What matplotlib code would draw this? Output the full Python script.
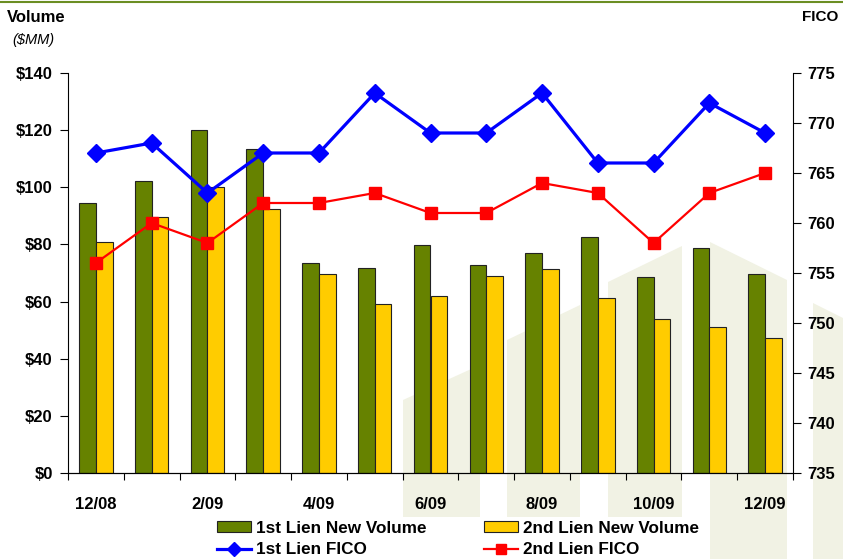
import numpy as np
import matplotlib.pyplot as plt
from matplotlib.patches import Polygon

plt.rcParams['font.family'] = ['Liberation Sans', 'DejaVu Sans']

# ---------------------------------------------------------
# DATA
# ---------------------------------------------------------
months = ["12/08", "1/09", "2/09", "3/09", "4/09", "5/09", "6/09",
          "7/09", "8/09", "9/09", "10/09", "11/09", "12/09"]
first_volume = [94.4, 102.3, 120.0, 113.3, 73.6, 71.6, 79.7,
                72.8, 77.1, 82.5, 68.5, 78.9, 69.5]
second_volume = [81.0, 89.5, 100.0, 92.5, 69.5, 59.0, 62.0,
                 69.1, 71.3, 61.3, 54.0, 51.2, 47.1]
first_fico = [767, 768, 763, 767, 767, 773, 769, 769, 773, 766, 766, 772, 769]
second_fico = [756, 760, 758, 762, 762, 763, 761, 761, 764, 763, 758, 763, 765]

GREEN = "#668200"
YELLOW = "#ffcc00"
BLUE = "#0000ff"
RED = "#ff0000"
WATERMARK = "#f1f2e4"

W, H = 843, 559
fig = plt.figure(figsize=(W / 100, H / 100), dpi=100)

# ---------------------------------------------------------
# BACKGROUND DECORATION (figure pixels, y down)
# ---------------------------------------------------------
bg = fig.add_axes([0, 0, 1, 1], zorder=-1)
bg.set_xlim(0, W)
bg.set_ylim(H, 0)
bg.axis("off")

shapes = [
    [(403, 559), (403, 400), (480, 365), (480, 559)],
    [(507, 559), (507, 340), (580, 305), (580, 559)],
    [(608, 559), (608, 282), (682, 246), (682, 559)],
    [(710, 559), (710, 242), (787, 280), (787, 559)],
    [(813, 559), (813, 303), (843, 318), (843, 559)],
]
for s in shapes:
    bg.add_patch(Polygon(s, closed=True, facecolor=WATERMARK, edgecolor="none"))

# top rule
bg.plot([0, W], [2, 2], color="#6b8e23", linewidth=1.5)

# ---------------------------------------------------------
# AXES
# ---------------------------------------------------------
ax = fig.add_axes([68 / W, 1 - 473 / H, (793 - 68) / W, (473 - 73) / H])
ax.patch.set_alpha(0)
x = np.arange(len(months))
bw = 0.3

ax.bar(x - bw / 2, first_volume, bw, color=GREEN, edgecolor="#222222",
       linewidth=0.8, label="1st Lien New Volume", zorder=2)
ax.bar(x + bw / 2, second_volume, bw, color=YELLOW, edgecolor="#222222",
       linewidth=0.8, label="2nd Lien New Volume", zorder=2)

ax.set_ylim(0, 140)
ax.set_xlim(-0.5, len(months) - 0.5)
ax.set_yticks(range(0, 141, 20))
ax.set_yticklabels([f"${v}" for v in range(0, 141, 20)])

ax.set_xticks(np.arange(-0.5, len(months), 1.0))
ax.set_xticklabels([])
ax.set_xticks(x[::2], minor=True)
ax.set_xticklabels(months[::2], minor=True)
ax.tick_params(axis="x", which="major", direction="out", length=5)
ax.tick_params(axis="x", which="minor", length=0, pad=17)
ax.tick_params(axis="y", direction="out", length=6, pad=5)

for lbl in ax.get_xticklabels(minor=True) + ax.get_yticklabels():
    lbl.set_fontweight("bold")
    lbl.set_fontsize(12)

ax.spines["top"].set_visible(False)
ax.spines["right"].set_visible(False)

ax2 = ax.twinx()
ax2.plot(x, first_fico, color=BLUE, linewidth=2.3, marker="D",
         markersize=9.5, label="1st Lien FICO", zorder=3)
ax2.plot(x, second_fico, color=RED, linewidth=1.6, marker="s",
         markersize=8.5, label="2nd Lien FICO", zorder=3)
ax2.set_ylim(735, 775)
ax2.set_yticks(range(735, 776, 5))
ax2.tick_params(axis="y", direction="out", length=6, pad=4)
for lbl in ax2.get_yticklabels():
    lbl.set_fontweight("bold")
    lbl.set_fontsize(12)
ax2.spines["top"].set_visible(False)
ax2.spines["left"].set_visible(False)

# ---------------------------------------------------------
# TEXT + LEGEND
# ---------------------------------------------------------
fig.text(7 / W, 1 - 17 / H, "Volume", fontsize=12, fontweight="bold",
         va="center", ha="left")
fig.text(12 / W, 1 - 40 / H, "($MM)", fontsize=10.5, fontstyle="italic",
         va="center", ha="left")
fig.text(838 / W, 1 - 17 / H, "FICO", fontsize=11, fontweight="bold",
         va="center", ha="right")

h1, l1 = ax.get_legend_handles_labels()
h2, l2 = ax2.get_legend_handles_labels()
handles = [h1[0], h2[0], h1[1], h2[1]]
labels = [l1[0], l2[0], l1[1], l2[1]]
leg = fig.legend(handles, labels, ncol=2, loc="center",
                 bbox_to_anchor=(458 / W, 1 - 539 / H),
                 frameon=True, facecolor="white", edgecolor="none",
                 fancybox=False, framealpha=1,
                 prop={"weight": "bold", "size": 12.3},
                 handlelength=2.0, handleheight=0.6, handletextpad=0.25,
                 columnspacing=3.4, labelspacing=0.4, borderpad=0.2,
                 markerscale=0.8)

fig.savefig("out.png", dpi=100)
